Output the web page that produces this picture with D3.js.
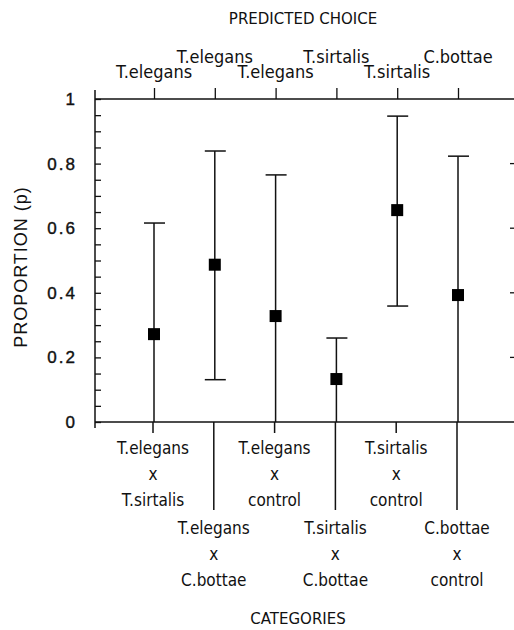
<!DOCTYPE html>
<html>
<head>
<meta charset="utf-8">
<script src="https://cdn.jsdelivr.net/npm/d3@7"></script>
<style>
  body { margin: 0; background: #fff; }
  svg { display: block; }
  .narrow { font-family: "Liberation Sans Narrow", "DejaVu Sans Condensed", "Roboto Condensed", sans-serif; font-stretch: condensed; }
</style>
</head>
<body>
<div id="chart"></div>
<script>
// categories (bottom, three lines each) and predicted choice (top)
var categories = [
    ['T.elegans', 'x', 'T.sirtalis'],
    ['T.elegans', 'x', 'C.bottae'],
    ['T.elegans', 'x', 'control'],
    ['T.sirtalis', 'x', 'C.bottae'],
    ['T.sirtalis', 'x', 'control'],
    ['C.bottae', 'x', 'control']
];
var predicted = ['T.elegans', 'T.elegans', 'T.elegans', 'T.sirtalis', 'T.sirtalis', 'C.bottae'];

// proportion and confidence limits
var proportion = [0.272, 0.487, 0.328, 0.133, 0.656, 0.393];
var upperLimit = [0.616, 0.839, 0.765, 0.260, 0.947, 0.823];
var lowerLimit = [0, 0.131, 0, 0, 0.359, 0];

var yTicks = [0, 0.2, 0.4, 0.6, 0.8, 1];

var width = 514,
    height = 630,
    plotLeft = 95,
    plotRight = 514,
    plotTop = 99,
    plotBottom = 422;

var svg = d3.select('#chart')
    .append('svg')
    .attr('width', width)
    .attr('height', height);

var x = d3.scalePoint()
    .domain(d3.range(categories.length))
    .range([154, 458]);

var y = d3.scaleLinear()
    .domain([0, 1])
    .range([plotBottom, plotTop]);

var ink = '#111';

// frame lines
svg.append('line').attr('x1', plotLeft).attr('x2', plotRight).attr('y1', plotTop).attr('y2', plotTop)
    .attr('stroke', ink).attr('stroke-width', 1.5);
svg.append('line').attr('x1', plotLeft).attr('x2', plotRight).attr('y1', plotBottom).attr('y2', plotBottom)
    .attr('stroke', ink).attr('stroke-width', 1.5);
svg.append('line').attr('x1', plotLeft).attr('x2', plotLeft).attr('y1', plotTop - 9).attr('y2', plotBottom + 6)
    .attr('stroke', ink).attr('stroke-width', 1.5);

// left axis: minor ticks every 0.05, labels every 0.2
var yAxis = d3.axisRight(y)
    .tickValues(d3.range(0, 1.0001, 0.05))
    .tickSize(6)
    .tickFormat('');

svg.append('g')
    .attr('transform', 'translate(' + plotLeft + ',0)')
    .call(yAxis)
    .call(function (g) {
        g.select('.domain').remove();
        g.selectAll('.tick line').attr('stroke', ink).attr('stroke-width', 1.3);
    });

svg.append('g')
    .selectAll('text')
    .data(yTicks)
    .enter()
    .append('text')
    .attr('x', 77)
    .attr('y', function (d) { return y(d) + 6; })
    .attr('text-anchor', 'end')
    .attr('font-family', '"Liberation Sans", Arial, sans-serif')
    .attr('font-size', 17)
    .attr('letter-spacing', 2)
    .attr('fill', ink)
    .attr('stroke', ink)
    .attr('stroke-width', 0.4)
    .text(function (d) { return d; });

// right edge ticks
svg.append('g')
    .selectAll('line')
    .data(yTicks.slice(1, 5))
    .enter()
    .append('line')
    .attr('x1', 510).attr('x2', plotRight)
    .attr('y1', function (d) { return y(d); })
    .attr('y2', function (d) { return y(d); })
    .attr('stroke', ink).attr('stroke-width', 1.3);

// top axis ticks and predicted choice labels
var topAxis = d3.axisTop(x).tickSize(11).tickFormat('');
svg.append('g')
    .attr('transform', 'translate(0,' + plotTop + ')')
    .call(topAxis)
    .call(function (g) {
        g.select('.domain').remove();
        g.selectAll('.tick line').attr('stroke', ink).attr('stroke-width', 1.3);
    });

svg.append('g')
    .selectAll('text')
    .data(predicted)
    .enter()
    .append('text')
    .attr('class', 'narrow')
    .attr('x', function (d, i) { return x(i); })
    .attr('y', function (d, i) { return i % 2 ? 63 : 78; })
    .attr('text-anchor', 'middle')
    .attr('font-size', 18)
    .attr('fill', ink)
    .text(function (d) { return d; });

// bottom ticks: short for the upper label row, long separators for the lower row
svg.append('g')
    .selectAll('line')
    .data(categories)
    .enter()
    .append('line')
    .attr('x1', function (d, i) { return x(i) - 1; })
    .attr('x2', function (d, i) { return x(i) - 1; })
    .attr('y1', plotBottom)
    .attr('y2', function (d, i) { return i % 2 ? 510 : plotBottom + 11; })
    .attr('stroke', ink).attr('stroke-width', 1.5);

var catLabels = svg.append('g')
    .selectAll('text')
    .data(categories)
    .enter()
    .append('text')
    .attr('class', 'narrow')
    .attr('text-anchor', 'middle')
    .attr('font-size', 17)
    .attr('fill', ink);

catLabels.selectAll('tspan')
    .data(function (d, i) { return d.map(function (s) { return { s: s, i: i }; }); })
    .enter()
    .append('tspan')
    .attr('x', function (d) { return x(d.i) - 1; })
    .attr('y', function (d, j) { return (d.i % 2 ? 534 : 454) + j * 26; })
    .text(function (d) { return d.s; });

// error bars
var bars = svg.append('g')
    .selectAll('g')
    .data(proportion.map(function (p, i) { return { i: i, p: p, hi: upperLimit[i], lo: lowerLimit[i] }; }))
    .enter()
    .append('g');

bars.append('line')
    .attr('x1', function (d) { return x(d.i); })
    .attr('x2', function (d) { return x(d.i); })
    .attr('y1', function (d) { return y(d.hi); })
    .attr('y2', function (d) { return y(d.lo); })
    .attr('stroke', ink).attr('stroke-width', 1.5);

bars.append('line')
    .attr('x1', function (d) { return x(d.i) - 10; })
    .attr('x2', function (d) { return x(d.i) + 11; })
    .attr('y1', function (d) { return y(d.hi); })
    .attr('y2', function (d) { return y(d.hi); })
    .attr('stroke', ink).attr('stroke-width', 1.5);

bars.filter(function (d) { return d.lo > 0; })
    .append('line')
    .attr('x1', function (d) { return x(d.i) - 10; })
    .attr('x2', function (d) { return x(d.i) + 11; })
    .attr('y1', function (d) { return y(d.lo); })
    .attr('y2', function (d) { return y(d.lo); })
    .attr('stroke', ink).attr('stroke-width', 1.5);

bars.append('rect')
    .attr('x', function (d) { return x(d.i) - 6; })
    .attr('y', function (d) { return y(d.p) - 6; })
    .attr('width', 12)
    .attr('height', 12)
    .attr('fill', '#000');

// titles
svg.append('text')
    .attr('x', 303).attr('y', 24)
    .attr('text-anchor', 'middle')
    .attr('font-family', '"DejaVu Sans", sans-serif')
    .attr('font-size', 15)
    .attr('fill', ink)
    .text('PREDICTED CHOICE');

svg.append('text')
    .attr('x', 298).attr('y', 624)
    .attr('text-anchor', 'middle')
    .attr('font-family', '"DejaVu Sans", sans-serif')
    .attr('font-size', 15)
    .attr('fill', ink)
    .text('CATEGORIES');

svg.append('text')
    .attr('transform', 'translate(27,267) rotate(-90)')
    .attr('text-anchor', 'middle')
    .attr('font-family', '"Liberation Sans", Arial, sans-serif')
    .attr('font-size', 18)
    .attr('letter-spacing', 1)
    .attr('fill', ink)
    .text('PROPORTION (p)');
</script>
</body>
</html>
